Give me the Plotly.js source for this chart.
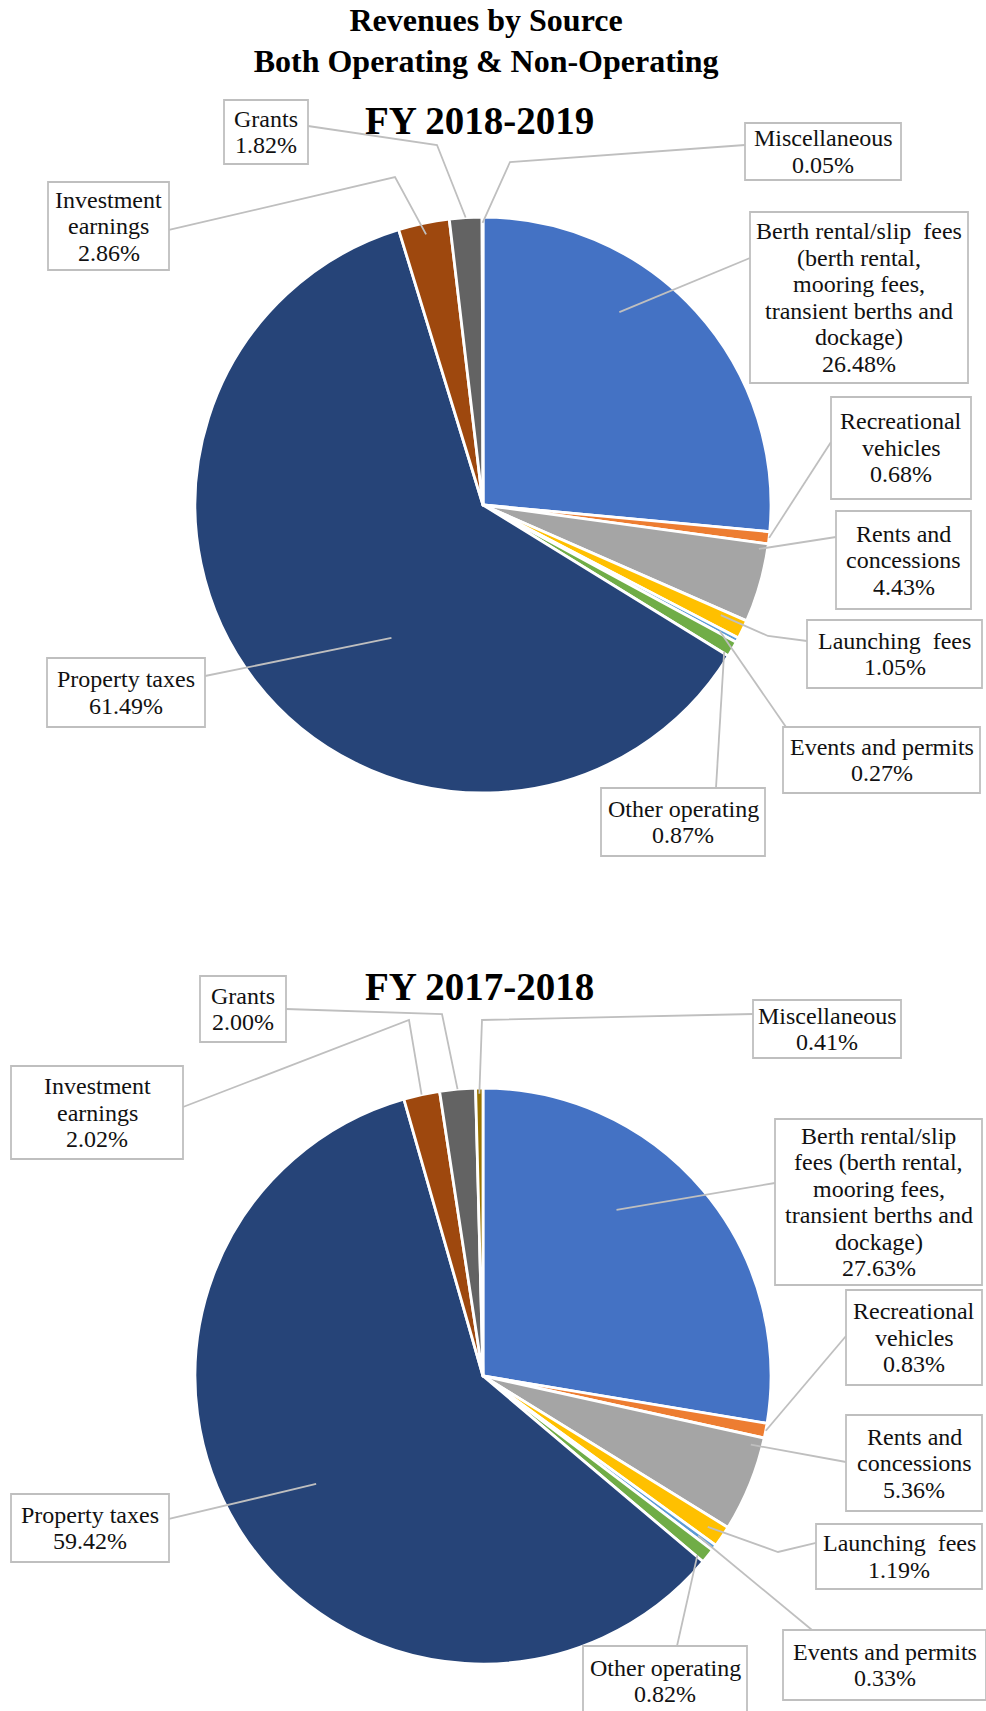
<!DOCTYPE html>
<html>
<head>
<meta charset="utf-8">
<script src="https://cdn.plot.ly/plotly-3.0.1.min.js"></script>
<style>
  html, body { margin: 0; padding: 0; background: #ffffff; }
  #chart { width: 986px; height: 1711px; }
</style>
</head>
<body>
<div id="chart"></div>
<script>
// ---------------- DATA ----------------
const categories = [
  "Berth rental/slip fees (berth rental, mooring fees, transient berths and dockage)",
  "Recreational vehicles",
  "Rents and concessions",
  "Launching fees",
  "Events and permits",
  "Other operating",
  "Property taxes",
  "Investment earnings",
  "Grants",
  "Miscellaneous"
];
const values1819 = [26.48, 0.68, 4.43, 1.05, 0.27, 0.87, 61.49, 2.86, 1.82, 0.05];
const values1718 = [27.63, 0.83, 5.36, 1.19, 0.33, 0.82, 59.42, 2.02, 2.00, 0.41];

// wrapped label text, as printed on each chart
const labelLines1819 = [
  ["Berth rental/slip  fees", "(berth rental,", "mooring fees,", "transient berths and", "dockage)"],
  ["Recreational", "vehicles"],
  ["Rents and", "concessions"],
  ["Launching  fees"],
  ["Events and permits"],
  ["Other operating"],
  ["Property taxes"],
  ["Investment", "earnings"],
  ["Grants"],
  ["Miscellaneous"]
];
const labelLines1718 = [
  ["Berth rental/slip", "fees (berth rental,", "mooring fees,", "transient berths and", "dockage)"],
  ["Recreational", "vehicles"],
  ["Rents and", "concessions"],
  ["Launching  fees"],
  ["Events and permits"],
  ["Other operating"],
  ["Property taxes"],
  ["Investment", "earnings"],
  ["Grants"],
  ["Miscellaneous"]
];
const mainTitle = "Revenues by Source<br>Both Operating & Non-Operating";
const chartTitles = ["FY 2018-2019", "FY 2017-2018"];

// ---------------- STYLE / LAYOUT ----------------
const W = 986, H = 1711;
const colors = ["#4472C4", "#ED7D31", "#A5A5A5", "#FFC000", "#5B9BD5",
                "#70AD47", "#264478", "#9E480E", "#636363", "#997300"];
const serif = "Liberation Serif, Times New Roman, serif";
const boxLine = "#BFBFBF";
const labelFont = 24;
const lineStep = 26.5;

const domains = [
  { x: [0.19777, 0.78195], y: [0.53653, 0.87317] },
  { x: [0.19777, 0.78195], y: [0.02747, 0.36411] }
];

// label placement (pixels): box [x0,y0,x1,y1], leader path start points, tip (t within slice, radius fraction)
const place1819 = [
  { box: [750, 212, 968, 383], path: [[750, 258]], t: 0.37, rf: 0.82 },
  { box: [831, 397, 971, 499], path: [[831, 442]], t: 0.5, rf: 1.0 },
  { box: [836, 511, 971, 609], path: [[836, 537]], t: 0.08, rf: 0.97 },
  { box: [807, 620, 982, 688], path: [[807, 641], [768, 636]], t: 0.3, rf: 0.91 },
  { box: [783, 727, 980, 793], path: [[786, 727]], t: 0.5, rf: 0.93 },
  { box: [601, 788, 765, 856], path: [[716, 788]], t: 0.9, rf: 0.98 },
  { box: [47, 658, 205, 727], path: [[205, 676]], t: 0.42, rf: 0.56 },
  { box: [48, 182, 169, 270], path: [[169, 230], [395, 177]], t: 0.5, rf: 0.96 },
  { box: [224, 100, 308, 164], path: [[308, 126], [437, 145]], t: 0.5, rf: 1.0 },
  { box: [745, 123, 901, 180], path: [[745, 145], [510, 162]], t: 0.5, rf: 0.98 }
];
const place1718 = [
  { box: [775, 1119, 982, 1285], path: [[775, 1183]], t: 0.39, rf: 0.74 },
  { box: [846, 1290, 982, 1385], path: [[846, 1336]], t: 0.5, rf: 1.0 },
  { box: [846, 1415, 982, 1511], path: [[846, 1462]], t: 0.1, rf: 0.96 },
  { box: [816, 1524, 982, 1589], path: [[816, 1543], [778, 1552]], t: 0.5, rf: 0.94 },
  { box: [783, 1630, 986, 1700], path: [[812, 1630]], t: 0.5, rf: 0.93 },
  { box: [583, 1646, 747, 1716], path: [[677, 1646]], t: 0.9, rf: 0.97 },
  { box: [11, 1494, 169, 1562], path: [[169, 1519]], t: 0.5, rf: 0.69 },
  { box: [11, 1066, 183, 1159], path: [[183, 1107], [409, 1020]], t: 0.5, rf: 1.0 },
  { box: [200, 976, 286, 1042], path: [[286, 1009], [442, 1014]], t: 0.5, rf: 1.0 },
  { box: [753, 1000, 901, 1058], path: [[753, 1014], [482, 1020]], t: 0.5, rf: 0.98 }
];
const titlePos = [[479, 120], [479, 987]];

// ---------------- BUILD ----------------
const px = x => x / W;
const py = y => 1 - y / H;

function pieTrace(vals, dom) {
  return {
    type: "pie",
    labels: categories,
    values: vals,
    sort: false,
    direction: "clockwise",
    rotation: 0,
    textinfo: "none",
    hoverinfo: "label+percent",
    showlegend: false,
    domain: dom,
    marker: { colors: colors, line: { color: "#ffffff", width: 2.8 } }
  };
}

const annotations = [];
const shapes = [];
const boxes = [];

function addLabels(vals, lines, place, dom) {
  const cx = (dom.x[0] + dom.x[1]) / 2 * W;
  const cy = H * (1 - (dom.y[0] + dom.y[1]) / 2);
  const r = Math.min((dom.x[1] - dom.x[0]) * W, (dom.y[1] - dom.y[0]) * H) / 2;
  const total = vals.reduce((a, b) => a + b, 0);
  let cum = 0;
  vals.forEach((v, i) => {
    const p = place[i];
    const frac = (cum + v * p.t) / total;
    cum += v;
    const th = 2 * Math.PI * frac;
    const tx = cx + p.rf * r * Math.sin(th);
    const ty = cy - p.rf * r * Math.cos(th);
    const pts = p.path.concat([[tx, ty]]);
    let d = "";
    pts.forEach((q, k) => { d += (k === 0 ? "M" : " L") + px(q[0]).toFixed(5) + "," + py(q[1]).toFixed(5); });
    shapes.push({ type: "path", xref: "paper", yref: "paper", path: d, layer: "above",
                  line: { color: boxLine, width: 1.8 } });
    const [x0, y0, x1, y1] = p.box;
    boxes.push({ type: "rect", xref: "paper", yref: "paper", layer: "above",
                 x0: px(x0), x1: px(x1), y0: py(y0), y1: py(y1),
                 fillcolor: "#ffffff", line: { color: boxLine, width: 1.8 } });
    const txt = lines[i].concat([v.toFixed(2) + "%"]);
    const mid = (y0 + y1) / 2;
    txt.forEach((s, k) => {
      annotations.push({
        xref: "paper", yref: "paper",
        x: px((x0 + x1) / 2), y: py(mid + (k - (txt.length - 1) / 2) * lineStep),
        xanchor: "center", yanchor: "middle",
        text: s, showarrow: false,
        font: { family: serif, size: labelFont, color: "#111111" }
      });
    });
  });
}

addLabels(values1819, labelLines1819, place1819, domains[0]);
addLabels(values1718, labelLines1718, place1718, domains[1]);

chartTitles.forEach((t, i) => {
  annotations.push({
    xref: "paper", yref: "paper", x: px(titlePos[i][0]), y: py(titlePos[i][1]),
    xanchor: "center", yanchor: "middle", showarrow: false, text: t,
    font: { family: serif, size: 39, color: "#000000", weight: "bold" }
  });
});

const layout = {
  width: W, height: H,
  margin: { l: 0, r: 0, t: 0, b: 0 },
  paper_bgcolor: "#ffffff",
  title: {
    text: mainTitle,
    font: { family: serif, size: 32, color: "#000000", weight: "bold" },
    x: 0.493, xanchor: "center", xref: "container",
    y: 0.982, yanchor: "top", yref: "container"
  },
  showlegend: false,
  annotations: annotations,
  shapes: shapes.concat(boxes)
};

Plotly.newPlot("chart", [pieTrace(values1819, domains[0]), pieTrace(values1718, domains[1])], layout, { staticPlot: true });
</script>
</body>
</html>
